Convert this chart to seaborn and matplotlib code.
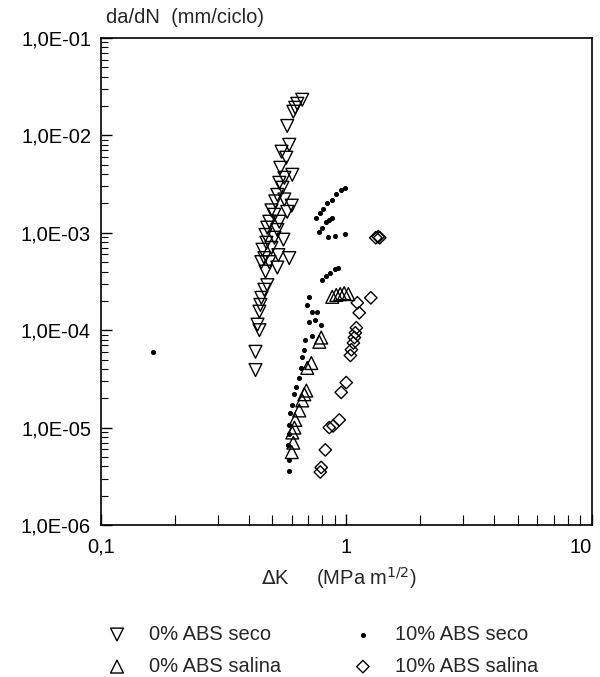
import numpy as np
import pandas as pd
import matplotlib
matplotlib.use('Agg')
import matplotlib.pyplot as plt
import matplotlib.ticker as mticker
import seaborn as sns

# 0% ABS seco (down triangles)
seco0_dk = [0.662, 0.632, 0.620, 0.609, 0.575, 0.586, 0.570, 0.539, 0.603, 0.560,
            0.534, 0.550, 0.524, 0.514, 0.575, 0.496, 0.510, 0.486, 0.534, 0.477,
            0.524, 0.469, 0.510, 0.555, 0.473, 0.496, 0.456, 0.529, 0.464, 0.486,
            0.451, 0.524, 0.469, 0.477, 0.464, 0.451, 0.447, 0.443, 0.435, 0.443,
            0.427, 0.427, 0.586, 0.560, 0.600, 0.545]
seco0_dadn = [2.32e-2, 2.11e-2, 1.92e-2, 1.75e-2, 1.25e-2, 8.0e-3, 5.9e-3, 4.65e-3, 3.94e-3, 3.67e-3,
              3.26e-3, 2.9e-3, 2.45e-3, 2.1e-3, 1.64e-3, 1.7e-3, 1.53e-3, 1.3e-3, 1.3e-3, 1.13e-3,
              1.07e-3, 9.5e-4, 8.9e-4, 8.5e-4, 7.9e-4, 7.0e-4, 6.7e-4, 5.9e-4, 5.5e-4, 5.0e-4,
              5.0e-4, 4.4e-4, 4.0e-4, 2.9e-4, 2.6e-4, 2.15e-4, 1.82e-4, 1.55e-4, 1.14e-4, 1.0e-4,
              6.0e-5, 3.9e-5, 5.5e-4, 2.2e-3, 1.9e-3, 6.8e-3]

# 0% ABS salina (up triangles)
salina0_dk = [0.791, 0.777, 0.721, 0.694, 0.688, 0.675, 0.662, 0.644, 0.620, 0.615,
              0.603, 0.609, 0.600, 0.877, 0.911, 0.945, 0.981, 1.02]
salina0_dadn = [8.4e-5, 7.6e-5, 4.6e-5, 4.1e-5, 2.4e-5, 2.2e-5, 1.9e-5, 1.5e-5, 1.2e-5, 1.0e-5,
                8.9e-6, 7.0e-6, 5.6e-6, 2.2e-4, 2.3e-4, 2.35e-4, 2.4e-4, 2.35e-4]

# 10% ABS seco (small dots)
seco10_dk = [0.755, 0.784, 0.806, 0.837, 0.877, 0.911, 0.954, 0.990,
             0.777, 0.799, 0.829, 0.853, 0.877, 0.845, 0.902, 0.990,
             0.799, 0.829, 0.861, 0.902, 0.928,
             0.707, 0.694, 0.728, 0.762, 0.707, 0.748, 0.791, 0.728, 0.680, 0.675,
             0.662, 0.656, 0.644, 0.626, 0.615, 0.603, 0.592, 0.586, 0.586, 0.580,
             0.586, 0.586, 0.163]
seco10_dadn = [1.43e-3, 1.6e-3, 1.76e-3, 2.03e-3, 2.18e-3, 2.5e-3, 2.77e-3, 2.9e-3,
               1.02e-3, 1.13e-3, 1.3e-3, 1.36e-3, 1.43e-3, 9.0e-4, 9.3e-4, 9.8e-4,
               3.3e-4, 3.6e-4, 3.9e-4, 4.2e-4, 4.4e-4,
               2.2e-4, 1.8e-4, 1.55e-4, 1.55e-4, 1.22e-4, 1.28e-4, 1.14e-4, 8.7e-5, 8.0e-5, 6.3e-5,
               5.3e-5, 4.1e-5, 3.2e-5, 2.6e-5, 2.2e-5, 1.7e-5, 1.4e-5, 1.07e-5, 8.6e-6, 6.7e-6,
               4.7e-6, 3.6e-6, 6.0e-5]

# 10% ABS salina (diamonds)
salina10_dk = [1.32, 1.35, 1.37, 1.26, 1.11, 1.13, 1.10, 1.09, 1.08, 1.07,
               1.05, 1.04, 1.00, 0.954, 0.937, 0.885, 0.853, 0.822, 0.791, 0.784]
salina10_dadn = [8.9e-4, 9.1e-4, 8.9e-4, 2.15e-4, 1.91e-4, 1.51e-4, 1.06e-4, 9.4e-5, 8.4e-5, 7.4e-5,
                 6.3e-5, 5.5e-5, 2.9e-5, 2.3e-5, 1.2e-5, 1.04e-5, 1.0e-5, 5.9e-6, 3.9e-6, 3.5e-6]

xtick_vals = [0.1, 1, 10]
xtick_labels = ['0,1', '1', '10']

series = [
    ('0% ABS seco', seco0_dk, seco0_dadn, 'v', 85, 'none'),
    ('0% ABS salina', salina0_dk, salina0_dadn, '^', 85, 'none'),
    ('10% ABS seco', seco10_dk, seco10_dadn, 'o', 7, 'black'),
    ('10% ABS salina', salina10_dk, salina10_dadn, 'D', 40, 'none'),
]

sns.set_style('ticks')
plt.rcParams['font.family'] = ['Liberation Sans', 'DejaVu Sans']
FS = 14.5

fig = plt.figure(figsize=(6, 6.77), dpi=100)
ax = fig.add_axes([0.168, 0.2245, 0.818, 0.7194])

for name, dk, dadn, mk, size, fc in series:
    df = pd.DataFrame({'dk': dk, 'dadn': dadn})
    sns.scatterplot(x='dk', y='dadn', data=df, ax=ax, marker=mk, s=size,
                    facecolor=fc, edgecolor='black', linewidth=1.0, label=name)

ax.set_xscale('log')
ax.set_yscale('log')
ax.set_xlim(0.1, 10)
ax.set_ylim(1e-6, 1e-1)
ax.set_xlabel('')
ax.set_ylabel('')

ax.yaxis.set_major_locator(mticker.LogLocator(base=10, numticks=10))
ax.yaxis.set_minor_locator(mticker.LogLocator(base=10, subs=np.arange(2, 10), numticks=10))
ax.yaxis.set_major_formatter(mticker.FuncFormatter(lambda v, p: '1,0E-%02d' % round(-np.log10(v))))
ax.yaxis.set_minor_formatter(mticker.NullFormatter())
ax.set_xticks(xtick_vals)
ax.set_xticklabels(xtick_labels)
ax.xaxis.set_minor_locator(mticker.LogLocator(base=10, subs=np.arange(2, 10), numticks=10))
ax.xaxis.set_minor_formatter(mticker.NullFormatter())
ax.get_xticklabels()[-1].set_horizontalalignment('right')

ax.tick_params(axis='both', which='both', direction='in', colors='black', labelsize=FS)
ax.tick_params(axis='y', which='major', length=8, width=1, pad=7)
ax.tick_params(axis='y', which='minor', length=5, width=0.8)
ax.tick_params(axis='x', which='major', length=8, width=1, pad=9)
ax.tick_params(axis='x', which='minor', length=7, width=0.8)
for sp in ax.spines.values():
    sp.set_color('black')
    sp.set_linewidth(1.2)

fig.text(0.177, 0.974, 'da/dN  (mm/ciclo)', fontsize=FS, ha='left', va='center')
fig.text(0.565, 0.146, r'$\Delta$K     (MPa m$^{1/2}$)', fontsize=FS, ha='center', va='center')

handles, labels = ax.get_legend_handles_labels()
ax.get_legend().remove()
fig.legend(handles, labels, ncol=2, frameon=False, fontsize=FS,
           loc='upper left', bbox_to_anchor=(0.148, 0.089), columnspacing=3.05,
           handletextpad=0.6, labelspacing=0.65, borderaxespad=0)

fig.savefig('out.png', dpi=100)
